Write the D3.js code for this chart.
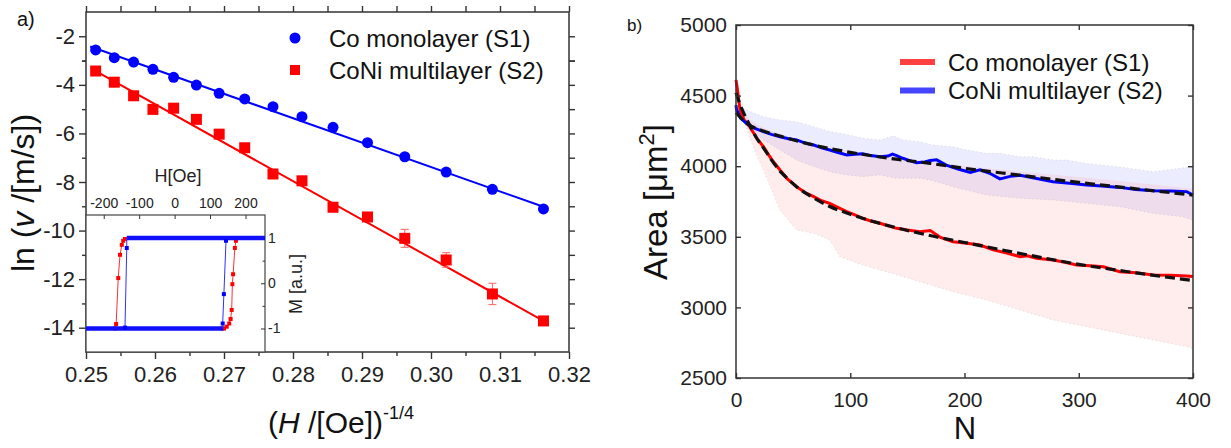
<!DOCTYPE html>
<html>
<head>
<meta charset="utf-8">
<script src="https://cdn.jsdelivr.net/npm/d3@7"></script>
<style>
  body { margin: 0; background: #fff; }
  svg { display: block; font-family: "Liberation Sans", Arial, sans-serif; }
</style>
</head>
<body>
<script>
// ---------- panel a data : ln(v) vs H^-1/4 ----------
const hField = [0.2514, 0.2541, 0.2569, 0.2597, 0.2627, 0.2660, 0.2693, 0.2730,
                0.2771, 0.2813, 0.2858, 0.2908, 0.2962, 0.3022, 0.3089, 0.3163];
const lnVS1 = [-2.56, -2.88, -3.06, -3.36, -3.69, -4.01, -4.35, -4.58,
               -4.90, -5.31, -5.75, -6.38, -6.96, -7.59, -8.30, -9.11];
const lnVS2 = [-3.43, -3.89, -4.45, -5.01, -4.96, -5.42, -6.03, -6.59,
               -7.67, -7.95, -9.04, -9.44, -10.32, -11.21, -12.61, -13.72];
const errS2 = [0, 0, 0, 0, 0, 0, 0, 0, 0, 0, 0, 0, 0.37, 0.30, 0.44, 0];
const fitS1 = [[0.2506, -2.42], [0.3163, -9.02]];
const fitS2 = [[0.2509, -3.35], [0.3163, -13.72]];

const aXTicks = [0.25, 0.26, 0.27, 0.28, 0.29, 0.30, 0.31, 0.32];
const aYTicks = [-14, -12, -10, -8, -6, -4, -2];
const legendLabels = ['Co monolayer (S1)', 'CoNi multilayer (S2)'];

// inset : hysteresis loops, [H (Oe), M (a.u.)]
const insetHTicks = [-200, -100, 0, 100, 200];
const insetMTicks = [-1, 0, 1];
const loopS1Flat = [[[-250, -1], [137, -1]], [[-135, 1], [255, 1]]];
const loopS1Left = [[-135, 1], [-135, 0.78], [-140, -0.98], [-140, -1]];
const loopS1Right = [[137, -1], [135.6, -0.89], [139, -0.24], [145, 0.94], [146, 1]];
const loopS2Down = [[255, 1], [-140, 0.98], [-145, 0.94], [-149, 0.85], [-154, 0.63],
                    [-159, 0.115], [-165, -0.90], [-168, -1], [-250, -1]];
const loopS2Up = [[-250, -1], [135, -1], [139.5, -1.0], [147, -0.96], [154, -0.89], [158, -0.79],
                  [161, -0.59], [163, -0.02], [165, 0.2], [170, 0.78], [173, 0.94], [176, 1], [255, 1]];

// ---------- panel b data : area vs N ----------
const bXTicks = [0, 100, 200, 300, 400];
const bYTicks = [2500, 3000, 3500, 4000, 4500, 5000];

const areaS1 = [[0, 4610], [1, 4560], [3.5, 4398], [7, 4330], [12, 4280], [18, 4200], [24, 4138],
  [31, 4050], [38.5, 3973], [45, 3910], [53, 3855], [60, 3815], [68, 3784], [75, 3755], [82, 3737],
  [90, 3705], [97, 3678], [104, 3655], [111, 3631], [118, 3612], [126, 3596], [133, 3578], [140.6, 3560],
  [150, 3548], [161, 3536], [170, 3545], [179, 3495], [190, 3465], [202, 3455], [213.6, 3442],
  [225, 3407], [237, 3385], [248.6, 3359], [255, 3365], [263, 3348], [277.5, 3336], [289, 3318],
  [298, 3300], [310, 3295], [321.5, 3288], [336, 3253], [350, 3245], [365, 3230], [380, 3228],
  [394.5, 3222], [400, 3218]];
const areaS2 = [[0, 4433], [0.5, 4400], [4, 4340], [9, 4304], [16, 4270], [24, 4245], [31, 4225],
  [38.5, 4209], [46, 4195], [53, 4186], [60, 4165], [68, 4150], [75, 4130], [82, 4115], [90, 4095],
  [97, 4079], [104, 4085], [111, 4088], [118, 4075], [126, 4067], [133, 4072], [137, 4085], [140.6, 4075],
  [146, 4056], [152, 4040], [158, 4025], [165, 4030], [170, 4040], [175.6, 4045], [184, 4008],
  [195, 3978], [205, 3955], [213.6, 3975], [222, 3950], [231, 3910], [240, 3928], [248.6, 3935],
  [262, 3915], [277.5, 3890], [292, 3880], [307, 3867], [320, 3860], [336, 3850], [350, 3835],
  [365, 3826], [380, 3825], [394.5, 3820], [400, 3796]];

const bandS1Low = [[0, 4600], [3.5, 4420], [8, 4300], [12, 4200], [18, 4080], [24, 3973], [38.5, 3690],
  [53, 3548], [68, 3525], [82, 3477], [91, 3359], [106, 3312], [126, 3265], [146, 3218], [161, 3182],
  [190, 3111], [219, 3052], [248.6, 2982], [277.5, 2911], [307, 2863], [336, 2816], [365, 2769],
  [394.5, 2722], [400, 2710]];
const bandS1High = [[0, 4620], [3.5, 4420], [12, 4330], [24, 4270], [53, 4190], [82, 4130], [111, 4090],
  [140, 4065], [170, 4030], [219, 3985], [277.5, 3940], [336, 3895], [400, 3840]];
const bandS2High = [[0, 4430], [9, 4398], [24, 4351], [38.5, 4327], [53, 4315], [68, 4280], [82, 4245],
  [97, 4225], [111, 4198], [126, 4186], [137.7, 4215], [146, 4186], [161, 4174], [172, 4150], [190, 4138],
  [202, 4115], [219, 4091], [231, 4091], [248.6, 4067], [260, 4067], [277.5, 4044], [289, 4044],
  [307, 4020], [336, 3995], [365, 3960], [388.6, 3985], [400, 3997]];
const bandS2Low = [[0, 4420], [9, 4280], [24, 4186], [38.5, 4115], [53, 4044], [68, 3997], [82, 3961],
  [97, 3938], [111, 3926], [126, 3938], [140.6, 3914], [161, 3914], [170, 3902], [190, 3855], [219, 3796],
  [248.6, 3773], [277.5, 3761], [307, 3737], [336, 3713], [365, 3666], [391, 3642], [400, 3619]];

const fitAreaS1 = [[0, 4520], [3, 4450], [6, 4390], [12, 4290], [18, 4200], [24, 4130], [31, 4045],
  [38.5, 3965], [46, 3905], [53, 3855], [68, 3775], [82, 3715], [100, 3660], [126, 3595], [150, 3545],
  [175, 3500], [200, 3460], [250, 3380], [300, 3305], [350, 3245], [400, 3190]];
const fitAreaS2 = [[0, 4380], [5, 4335], [10, 4300], [24, 4250], [40, 4210], [60, 4165], [82, 4125],
  [100, 4098], [140, 4050], [170, 4020], [200, 3985], [250, 3935], [300, 3885], [350, 3840], [400, 3795]];

// ---------- svg ----------
const W = 1231, H = 448;
const svg = d3.select('body').append('svg')
    .attr('width', W)
    .attr('height', H);

function styleAxis(g, size) {
  g.attr('font-family', null).attr('font-size', size);
  g.select('.domain').remove();
  g.selectAll('.tick line').attr('stroke', '#333').attr('stroke-width', 1.4);
  g.selectAll('.tick text').attr('fill', '#222');
}

// ================= panel a =================
const aBox = {left: 86, right: 569, top: 12, bottom: 352};
const xA = d3.scaleLinear().domain([0.25, 0.32]).range([aBox.left, aBox.right]);
const yA = d3.scaleLinear().domain([-15, -1]).range([aBox.bottom, aBox.top]);
const aXMinor = aXTicks.slice(0, -1).map(d => d + 0.005);
const aYMinor = aYTicks.map(d => d - 1).slice(1).concat([-3]);

const gA = svg.append('g');

// axes (ticks outward)
gA.append('g').attr('transform', `translate(0,${aBox.bottom})`)
  .call(d3.axisBottom(xA).tickValues(aXTicks).tickFormat(d3.format('.2f')).tickSize(7).tickPadding(7))
  .call(styleAxis, 22);
gA.append('g').attr('transform', `translate(0,${aBox.bottom})`)
  .call(d3.axisBottom(xA).tickValues(aXMinor).tickFormat('').tickSize(4))
  .call(styleAxis, 22);
gA.append('g').attr('transform', `translate(0,${aBox.top})`)
  .call(d3.axisTop(xA).tickValues(aXTicks.concat(aXMinor)).tickFormat('').tickSize(6))
  .call(styleAxis, 22);
gA.append('g').attr('transform', `translate(${aBox.left},0)`)
  .call(d3.axisLeft(yA).tickValues(aYTicks).tickFormat(d => String(d)).tickSize(7).tickPadding(4))
  .call(styleAxis, 22);
gA.append('g').attr('transform', `translate(${aBox.left},0)`)
  .call(d3.axisLeft(yA).tickValues(aYMinor).tickFormat('').tickSize(4))
  .call(styleAxis, 22);
gA.append('g').attr('transform', `translate(${aBox.right},0)`)
  .call(d3.axisRight(yA).tickValues(aYTicks.concat(aYMinor)).tickFormat('').tickSize(6))
  .call(styleAxis, 22);

gA.append('rect')
  .attr('x', aBox.left).attr('y', aBox.top)
  .attr('width', aBox.right - aBox.left).attr('height', aBox.bottom - aBox.top)
  .attr('fill', 'none').attr('stroke', '#333').attr('stroke-width', 1.5);

// fit lines
const lineA = d3.line().x(d => xA(d[0])).y(d => yA(d[1]));
gA.append('path').attr('d', lineA(fitS1)).attr('stroke', '#0000ff').attr('stroke-width', 2).attr('fill', 'none');
gA.append('path').attr('d', lineA(fitS2)).attr('stroke', '#ff0000').attr('stroke-width', 2).attr('fill', 'none');

// error bars on S2
const errG = gA.append('g').attr('stroke', '#ff6060').attr('stroke-width', 1);
hField.forEach((h, i) => {
  if (!errS2[i]) return;
  let x = xA(h), y0 = yA(lnVS2[i] - errS2[i]), y1 = yA(lnVS2[i] + errS2[i]);
  errG.append('line').attr('x1', x).attr('x2', x).attr('y1', y0).attr('y2', y1);
  errG.append('line').attr('x1', x - 4).attr('x2', x + 4).attr('y1', y0).attr('y2', y0);
  errG.append('line').attr('x1', x - 4).attr('x2', x + 4).attr('y1', y1).attr('y2', y1);
});

// markers
gA.selectAll('.s1pt').data(hField).enter().append('circle')
  .attr('class', 's1pt')
  .attr('cx', d => xA(d))
  .attr('cy', (d, i) => yA(lnVS1[i]))
  .attr('r', 5.5)
  .attr('fill', '#0000ff');
gA.selectAll('.s2pt').data(hField).enter().append('rect')
  .attr('class', 's2pt')
  .attr('x', d => xA(d) - 5.5)
  .attr('y', (d, i) => yA(lnVS2[i]) - 5.5)
  .attr('width', 11).attr('height', 11)
  .attr('fill', '#ff0000');

// legend
const legA = gA.append('g').attr('font-size', 24).attr('fill', '#111');
legendLabels.forEach((t, i) => {
  let y = 38 + i * 32;
  if (i === 0) legA.append('circle').attr('cx', 295).attr('cy', y).attr('r', 5.5).attr('fill', '#0000ff');
  else legA.append('rect').attr('x', 290).attr('y', y - 5).attr('width', 10).attr('height', 10).attr('fill', '#ff0000');
  legA.append('text').attr('x', 329).attr('y', y + 9).text(t);
});

// axis titles
gA.append('text')
  .attr('transform', 'translate(34,193) rotate(-90)')
  .attr('text-anchor', 'middle')
  .attr('font-size', 32).attr('fill', '#111')
  .call(t => {
    t.append('tspan').text('ln (');
    t.append('tspan').attr('font-style', 'italic').text('v');
    t.append('tspan').text(' /[m/s])');
  });
gA.append('text')
  .attr('x', 268).attr('y', 433)
  .attr('font-size', 30).attr('fill', '#111')
  .call(t => {
    t.append('tspan').text('(');
    t.append('tspan').attr('font-style', 'italic').text('H');
    t.append('tspan').text(' /[Oe])');
    t.append('tspan').attr('font-size', 18).attr('dy', -14).text('-1/4');
  });
svg.append('text').attr('x', 17).attr('y', 26).attr('font-size', 20).attr('fill', '#111').text('a)');

// ---------- inset ----------
const inBox = {left: 86, right: 265, top: 215, bottom: 352};
const xI = d3.scaleLinear().domain([-250, 255]).range([inBox.left, inBox.right]);
const yI = d3.scaleLinear().domain([-1.52, 1.51]).range([inBox.bottom, inBox.top]);
const gI = svg.append('g');

gI.append('rect')
  .attr('x', inBox.left).attr('y', inBox.top)
  .attr('width', inBox.right - inBox.left).attr('height', inBox.bottom - inBox.top)
  .attr('fill', '#fff').attr('stroke', '#444').attr('stroke-width', 1.2);

gI.append('g').attr('transform', `translate(0,${inBox.top})`)
  .call(d3.axisTop(xI).tickValues(insetHTicks).tickSize(-4).tickPadding(7).tickFormat(d => String(d)))
  .call(styleAxis, 14);
gI.append('g').attr('transform', `translate(${inBox.right},0)`)
  .call(d3.axisRight(yI).tickValues(insetMTicks).tickSize(-4).tickPadding(3).tickFormat(d => String(d)))
  .call(styleAxis, 14);
gI.append('g').attr('transform', `translate(${inBox.right},0)`)
  .call(d3.axisRight(yI).tickValues([-0.5, 0.5]).tickSize(-2.5).tickFormat(''))
  .call(styleAxis, 14);
gI.selectAll('.tick line').attr('stroke-width', 1);

const lineI = d3.line().x(d => xI(d[0])).y(d => yI(d[1]));
// S2 loop (red) underneath
[loopS2Down, loopS2Up].forEach(loop => {
  gI.append('path').attr('d', lineI(loop)).attr('fill', 'none').attr('stroke', '#ff3030').attr('stroke-width', 1);
  gI.selectAll(null).data(loop.filter(d => Math.abs(d[0]) < 250)).enter().append('rect')
    .attr('x', d => xI(d[0]) - 2).attr('y', d => yI(d[1]) - 2)
    .attr('width', 4).attr('height', 4).attr('fill', '#ff0000');
});
// S1 loop (blue)
loopS1Flat.forEach(seg => {
  gI.append('path').attr('d', lineI(seg)).attr('fill', 'none').attr('stroke', '#1010ff').attr('stroke-width', 4.5);
});
[loopS1Left, loopS1Right].forEach(br => {
  gI.append('path').attr('d', lineI(br)).attr('fill', 'none').attr('stroke', '#3030ff').attr('stroke-width', 1);
  gI.selectAll(null).data(br.slice(1, -1)).enter().append('rect')
    .attr('x', d => xI(d[0]) - 2).attr('y', d => yI(d[1]) - 2)
    .attr('width', 4).attr('height', 4).attr('fill', '#0000ff');
});

gI.append('text').attr('x', 178).attr('y', 182).attr('text-anchor', 'middle')
  .attr('font-size', 18).attr('fill', '#222').text('H[Oe]');
gI.append('text').attr('transform', 'translate(302,284) rotate(-90)').attr('text-anchor', 'middle')
  .attr('font-size', 18).attr('fill', '#222').text('M [a.u.]');

// ================= panel b =================
const bBox = {left: 736, right: 1193, top: 25, bottom: 378};
const xB = d3.scaleLinear().domain([0, 400]).range([bBox.left, bBox.right]);
const yB = d3.scaleLinear().domain([2500, 5000]).range([bBox.bottom, bBox.top]);
const gB = svg.append('g');

// shaded spread bands
function bandPath(lo, hi) {
  let pts = lo.map(d => [xB(d[0]), yB(d[1])])
    .concat(hi.slice().reverse().map(d => [xB(d[0]), yB(d[1])]));
  return 'M' + pts.map(p => p.join(',')).join('L') + 'Z';
}
gB.append('path').attr('d', bandPath(bandS2Low, bandS2High))
  .attr('fill', '#5050ff').attr('fill-opacity', 0.11);
gB.append('path').attr('d', bandPath(bandS1Low, bandS1High))
  .attr('fill', '#ff5050').attr('fill-opacity', 0.11);

const lineB = d3.line().x(d => xB(d[0])).y(d => yB(d[1]));
[bandS2High, bandS2Low, bandS1Low].forEach(edge => {
  gB.append('path').attr('d', lineB(edge)).attr('fill', 'none')
    .attr('stroke', '#888').attr('stroke-opacity', 0.35).attr('stroke-width', 0.8)
    .attr('stroke-dasharray', '1,3');
});

gB.append('path').attr('d', lineB(areaS1)).attr('fill', 'none')
  .attr('stroke', '#ff0000').attr('stroke-width', 3);
gB.append('path').attr('d', lineB(areaS2)).attr('fill', 'none')
  .attr('stroke', '#0000ff').attr('stroke-width', 3);

const fitLine = d3.line().curve(d3.curveMonotoneX).x(d => xB(d[0])).y(d => yB(d[1]));
[fitAreaS1, fitAreaS2].forEach(f => {
  gB.append('path').attr('d', fitLine(f)).attr('fill', 'none')
    .attr('stroke', '#111').attr('stroke-width', 3.2).attr('stroke-dasharray', '10,5');
});

// axes (ticks inward)
gB.append('g').attr('transform', `translate(0,${bBox.bottom})`)
  .call(d3.axisBottom(xB).tickValues(bXTicks).tickFormat(d3.format('d')).tickSize(-5).tickPadding(14))
  .call(styleAxis, 21);
gB.append('g').attr('transform', `translate(0,${bBox.top})`)
  .call(d3.axisTop(xB).tickValues(bXTicks).tickSize(-5).tickFormat(''))
  .call(styleAxis, 21);
gB.append('g').attr('transform', `translate(${bBox.left},0)`)
  .call(d3.axisLeft(yB).tickValues(bYTicks).tickFormat(d3.format('d')).tickSize(-5).tickPadding(9))
  .call(styleAxis, 21);
gB.append('g').attr('transform', `translate(${bBox.right},0)`)
  .call(d3.axisRight(yB).tickValues(bYTicks).tickSize(-5).tickFormat(''))
  .call(styleAxis, 21);

gB.append('rect')
  .attr('x', bBox.left).attr('y', bBox.top)
  .attr('width', bBox.right - bBox.left).attr('height', bBox.bottom - bBox.top)
  .attr('fill', 'none').attr('stroke', '#333').attr('stroke-width', 1.5);

// legend
const legColors = ['#ff4040', '#4545ff'];
legendLabels.forEach((t, i) => {
  let y = 62 + i * 28.5;
  gB.append('line').attr('x1', 900).attr('x2', 935).attr('y1', y).attr('y2', y)
    .attr('stroke', legColors[i]).attr('stroke-width', 6);
  gB.append('text').attr('x', 948).attr('y', y + 8.5)
    .attr('font-size', 24).attr('fill', '#111').text(t);
});

// titles
gB.append('text')
  .attr('transform', 'translate(667,202) rotate(-90)')
  .attr('text-anchor', 'middle')
  .attr('font-size', 33).attr('fill', '#111')
  .call(t => {
    t.append('tspan').text('Area [\u03bcm');
    t.append('tspan').attr('font-size', 22).attr('dy', -13).text('2');
    t.append('tspan').attr('dy', 13).text(']');
  });
gB.append('text').attr('x', 965).attr('y', 439).attr('text-anchor', 'middle')
  .attr('font-size', 31).attr('fill', '#111').text('N');
svg.append('text').attr('x', 627).attr('y', 31).attr('font-size', 17).attr('fill', '#111').text('b)');
</script>
</body>
</html>
